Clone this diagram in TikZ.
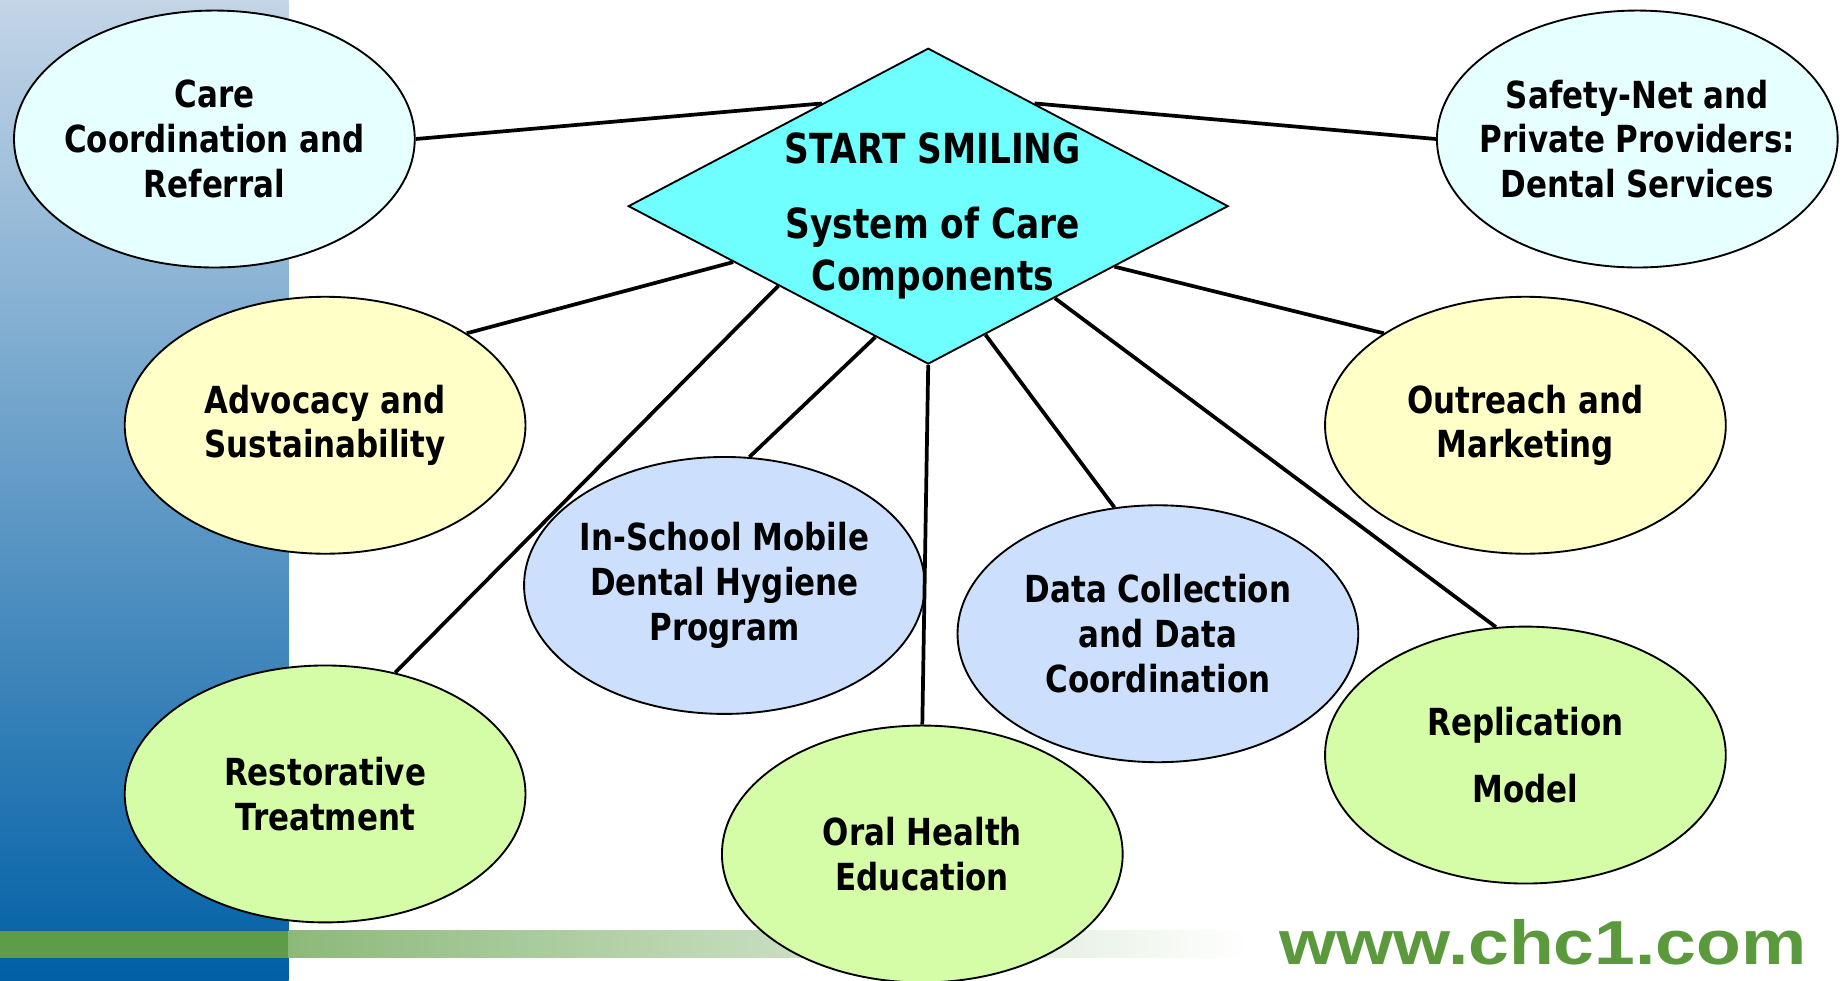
\documentclass[tikz,border=0pt]{standalone}
\usepackage{fontspec}
\setmainfont{DejaVu Sans}[FakeStretch=0.83]
\usepackage{tikz}
\usetikzlibrary{shapes.geometric}
\usepackage{xcolor}
\definecolor{light_cyan}{HTML}{E6FFFF}
\definecolor{pale_yellow}{HTML}{FFFFC8}
\definecolor{pale_blue}{HTML}{CCE0FD}
\definecolor{pale_green}{HTML}{D5FCA6}
\definecolor{hub_cyan}{HTML}{6FFFFF}
\definecolor{strip_top}{HTML}{C3D5E7}
\definecolor{strip_mid}{HTML}{5A92C4}
\definecolor{strip_bottom}{HTML}{0060A6}
\definecolor{band_green}{HTML}{5E9C48}
\definecolor{band_light}{HTML}{8CB97A}
\definecolor{web_green}{HTML}{5A9A3C}

\begin{document}
\begin{tikzpicture}[x=0.01cm, y=-0.01cm,
	component/.style={ellipse, draw, line width=0.45pt, minimum width=3.4cm, minimum height=2.18cm,
		inner xsep=-3mm, inner ysep=0pt, align=center, font={\fontsize{9pt}{10.8pt}\selectfont\bfseries}},
	link/.style={line width=0.9pt}]
	\useasboundingbox (0,0) rectangle (1568,832);
	% background
	\fill[white] (0,0) rectangle (1568,832);
	\shade[top color=strip_top, middle color=strip_mid, bottom color=strip_bottom] (0,0) rectangle (245,832);
	\fill[band_green] (0,790) rectangle (245,813);
	\shade[left color=band_light, right color=white] (245,790) rectangle (1060,813);
	\node[font={\fontsize{15pt}{18pt}\selectfont\bfseries}, text=web_green] (web) at (1310,800)
		{\scalebox{1.18}[1]{\fontspec{Liberation Sans}\bfseries www.chc1.com}};
	% hub
	\node[diamond, draw, fill=hub_cyan, line width=0.45pt, minimum width=5.09cm, minimum height=2.68cm, inner sep=0pt] (hub) at (788,175) {};
	\node[align=center, font={\fontsize{10pt}{12.5pt}\selectfont\bfseries}] (hubtext) at (792,183)
		{START SMILING\\[5.7pt]System of Care\\Components};
	% components
	\node[component, fill=light_cyan] (care) at (182,118) {Care\\Coordination and\\Referral};
	\node[component, fill=light_cyan] (safety) at (1390,118) {Safety-Net and\\Private Providers:\\Dental Services};
	\node[component, fill=pale_yellow] (advocacy) at (276,361) {Advocacy and\\Sustainability};
	\node[component, fill=pale_yellow] (outreach) at (1295,361) {Outreach and\\Marketing};
	\node[component, fill=pale_blue] (mobile) at (615,497) {In-School Mobile\\Dental Hygiene\\Program};
	\node[component, fill=pale_blue] (data) at (983,538) {Data Collection\\and Data\\Coordination};
	\node[component, fill=pale_green] (restore) at (276,674) {Restorative\\Treatment};
	\node[component, fill=pale_green] (oral) at (783,725) {Oral Health\\Education};
	\node[component, fill=pale_green] (replica) at (1295,641) {Replication\\[5.6pt]Model};
	% links
	\draw[link] (care.east) -- (hub.136);
	\draw[link] (safety.west) -- (hub.44);
	\draw[link] (advocacy.33) -- (hub.196);
	\draw[link] (outreach.147) -- (hub.342);
	\draw[link] (restore.60) -- (hub.208);
	\draw[link] (mobile.79) -- (hub.248);
	\draw[link] (oral.north) -- (hub.south);
	\draw[link] (data.109) -- (hub.294);
	\draw[link] (replica.103) -- (hub.324);
\end{tikzpicture}
\end{document}
